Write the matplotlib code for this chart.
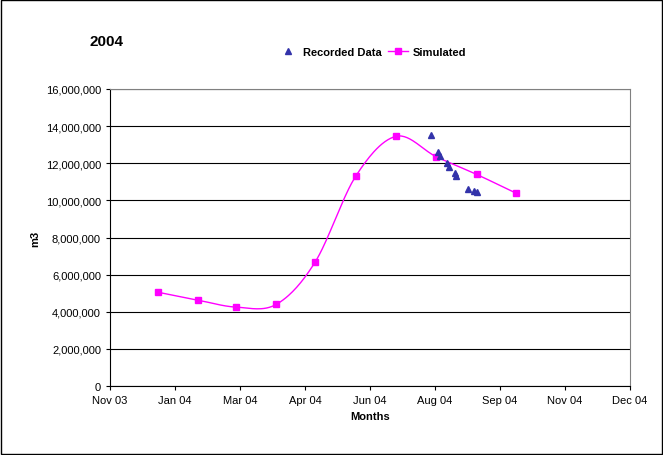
import numpy as np
import matplotlib
matplotlib.use("Agg")
import matplotlib.pyplot as plt
from matplotlib.lines import Line2D

plt.rcParams['font.family'] = ['Liberation Sans', 'DejaVu Sans']

# x in days from the first axis tick (Nov 03)
tick_labels = ['Nov 03', 'Jan 04', 'Mar 04', 'Apr 04', 'Jun 04',
               'Aug 04', 'Sep 04', 'Nov 04', 'Dec 04']
sim_x = [37, 68, 97, 128, 158, 189, 220, 251, 282, 312]
sim_y = [5.05e6, 4.62e6, 4.25e6, 4.4e6, 6.7e6, 11.3e6, 13.45e6, 12.35e6, 11.4e6, 10.4e6]
rec_x = [247, 252, 254, 259, 261, 265, 266, 275, 280, 282]
rec_y = [13.5e6, 12.6e6, 12.4e6, 12.0e6, 11.8e6, 11.45e6, 11.3e6, 10.6e6, 10.5e6, 10.45e6]


def smooth(x, y, n=30):
    # Catmull-Rom style smoothing like Excel's smoothed line
    x = np.asarray(x, float)
    y = np.asarray(y, float)
    px = np.concatenate([[x[0]], x, [x[-1]]])
    py = np.concatenate([[y[0]], y, [y[-1]]])
    xs, ys = [], []
    t = np.linspace(0, 1, n)
    for i in range(1, len(px) - 2):
        p0, p1, p2, p3 = [np.array([px[j], py[j]]) for j in (i - 1, i, i + 1, i + 2)]
        c1 = p1 + (p2 - p0) / 6
        c2 = p2 - (p3 - p1) / 6
        b = ((1 - t) ** 3)[:, None] * p1 + (3 * (1 - t) ** 2 * t)[:, None] * c1 \
            + (3 * (1 - t) * t ** 2)[:, None] * c2 + (t ** 3)[:, None] * p2
        xs.extend(b[:, 0])
        ys.extend(b[:, 1])
    return xs, ys


fig = plt.figure(figsize=(6.63, 4.56), dpi=100)
ax = fig.add_axes([110 / 663, 1 - 387 / 456, 520 / 663, 297 / 456])

sx, sy = smooth(sim_x, sim_y)
ax.plot(sx, sy, color='#ff00ff', lw=1, zorder=2)
ax.plot(sim_x, sim_y, 's', color='#ff00ff', ms=5, zorder=3)
ax.plot(rec_x, rec_y, '^', color='#3333aa', ms=5, zorder=4, lw=0)

ax.set_xlim(0, 400)
ax.set_ylim(0, 16e6)
ax.set_xticks(np.arange(0, 401, 50))
ax.set_xticklabels(tick_labels, fontsize=8)
ax.set_yticks(np.arange(0, 16e6 + 1, 2e6))
ax.set_yticklabels(['{:,.0f}'.format(v) for v in np.arange(0, 16e6 + 1, 2e6)], fontsize=8)
ax.yaxis.grid(True, color='black', lw=0.8)
ax.set_axisbelow(True)
for s in ('top', 'right'):
    ax.spines[s].set_color('#808080')
ax.tick_params(length=3)
ax.set_xlabel('Months', fontsize=8, fontweight='bold')
ax.set_ylabel('m3', fontsize=8, fontweight='bold')

fig.text(90 / 663, 1 - 42 / 456, '2004', fontsize=11, fontweight='bold', va='center')
h = [Line2D([], [], marker='^', color='#3333aa', lw=0, ms=5),
     Line2D([], [], marker='s', color='#ff00ff', lw=1, ms=5)]
fig.legend(h, ['Recorded Data', 'Simulated'], loc='center', bbox_to_anchor=(372 / 663, 1 - 53 / 456),
           ncol=2, frameon=False, prop={'size': 8, 'weight': 'bold'}, handlelength=1.8,
           handletextpad=0.4, columnspacing=0.6)

fig.patches.append(plt.Rectangle((0.002, 0.002), 0.996, 0.996, transform=fig.transFigure,
                                 fill=False, edgecolor='black', lw=1))
fig.savefig('out.png', dpi=100)
